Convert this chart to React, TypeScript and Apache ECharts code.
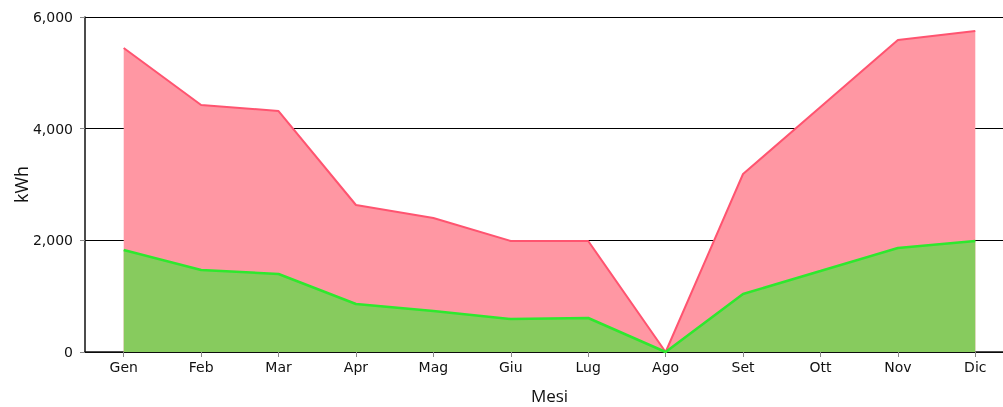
import React, { useEffect, useRef } from "react";
import * as echarts from "echarts";

const months = ["Gen", "Feb", "Mar", "Apr", "Mag", "Giu", "Lug", "Ago", "Set", "Ott", "Nov", "Dic"];
const totalKwh = [5445, 4424, 4316, 2633, 2400, 1988, 1988, 0, 3188, 4390, 5588, 5750];
const greenKwh = [1827, 1469, 1397, 860, 734, 591, 609, 0, 1039, 1450, 1863, 1988];

export default function App() {
  const ref = useRef<HTMLDivElement>(null);
  useEffect(() => {
    if (!ref.current) return;
    const chart = echarts.init(ref.current, null, { renderer: "svg" });
    chart.setOption({
      animation: false,
      grid: { left: 85, top: 17, right: 16, bottom: 55, containLabel: false, outerBoundsMode: "none" },
      xAxis: {
        type: "category",
        data: months,
        boundaryGap: true,
        name: "Mesi",
        nameLocation: "middle",
        nameGap: 35,
        nameMoveOverlap: false,
        nameTextStyle: { fontFamily: "Open Sans", fontSize: 17, color: "#111" },
        axisLine: { show: true, lineStyle: { color: "#111", width: 1.5 } },
        axisTick: { show: true, alignWithLabel: true, length: 5, lineStyle: { color: "#888" } },
        axisLabel: { color: "#111", fontFamily: "DejaVu Sans", fontSize: 14, margin: 8 },
        splitLine: { show: false },
      },
      yAxis: {
        type: "value",
        min: 0,
        max: 6000,
        interval: 2000,
        name: "kWh",
        nameLocation: "middle",
        nameGap: 55,
        nameMoveOverlap: false,
        nameTextStyle: { fontFamily: "Open Sans", fontSize: 18, color: "#111" },
        axisLine: { show: true, lineStyle: { color: "#111", width: 1.5 } },
        axisTick: { show: true, length: 5, lineStyle: { color: "#888" } },
        axisLabel: {
          color: "#111",
          fontFamily: "DejaVu Sans",
          fontSize: 14,
          margin: 12,
          formatter: (v: number) => v.toLocaleString("en-US"),
        },
        splitLine: { show: true, lineStyle: { color: "#000", width: 1.2 } },
      },
      series: [
        {
          name: "Totale",
          type: "line",
          data: totalKwh,
          showSymbol: false,
          symbol: "none",
          lineStyle: { color: "#ff5470", width: 2 },
          itemStyle: { color: "#ff5470" },
          areaStyle: { color: "#ff97a3", opacity: 1 },
          z: 1,
        },
        {
          name: "Autoconsumo",
          type: "line",
          data: greenKwh,
          showSymbol: false,
          symbol: "none",
          lineStyle: { color: "#2ee82e", width: 2.5 },
          itemStyle: { color: "#2ee82e" },
          areaStyle: { color: "#87cb5e", opacity: 1 },
          z: 2,
        },
      ],
    });
    return () => chart.dispose();
  }, []);
  return (
    <div style={{ position: "fixed", left: 0, top: 0, width: 1003, height: 407, overflow: "hidden" }}>
      <div ref={ref} style={{ width: 1030, height: 407 }} />
    </div>
  );
}
